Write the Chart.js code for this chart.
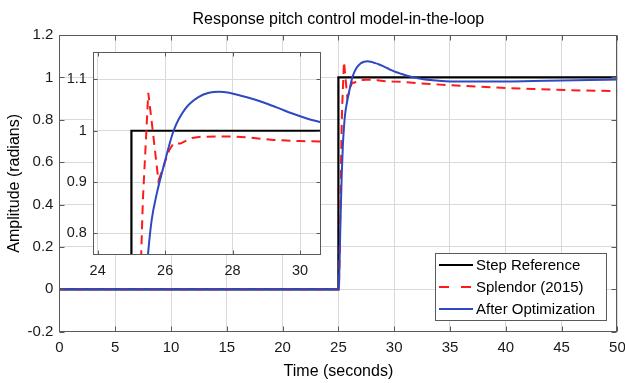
<!DOCTYPE html>
<html><head><meta charset="utf-8">
<script src="https://cdn.jsdelivr.net/npm/chart.js@4/dist/chart.umd.min.js"></script>
<style>
html,body{margin:0;padding:0;background:#fff;}
#wrap{position:relative;width:625px;height:383px;}
canvas{position:absolute;left:0;top:0;}
#inset{pointer-events:none;}
</style></head><body>
<div id="wrap"><canvas id="main" width="625" height="383"></canvas><canvas id="inset" width="625" height="383"></canvas></div>
<script>
const chartTitle = 'Response pitch control model-in-the-loop';
const xAxisTitle = 'Time (seconds)';
const yAxisTitle = 'Amplitude (radians)';
const seriesNames = ['Step Reference', 'Splendor (2015)', 'After Optimization'];

const stepTime  = [0, 25, 25, 50];
const stepValue = [0, 0, 1, 1];

const splendorTime  = [0, 25.05, 25.15, 25.22, 25.29, 25.34, 25.5, 25.65, 25.8, 25.9, 26.0, 26.12, 26.25, 26.45, 26.6, 26.8, 27.0, 27.5, 28.0, 28.5, 29.2, 30.0, 30.6, 32, 35, 37.5, 40, 42.5, 45.5, 50];
const splendorValue = [0, 0, 0.3, 0.55, 0.76, 0.865, 1.074, 0.99, 0.903, 0.92, 0.94, 0.962, 0.976, 0.975, 0.98, 0.986, 0.988, 0.989, 0.989, 0.987, 0.982, 0.98, 0.979, 0.973, 0.963, 0.956, 0.95, 0.945, 0.94, 0.935];

const optTime  = [0, 25.0, 25.05, 25.1, 25.2, 25.3, 25.4, 25.5, 25.6, 25.75, 26.0, 26.25, 26.6, 27.0, 27.3, 27.6, 27.9, 28.2, 28.6, 29.0, 29.4, 29.75, 30.2, 30.6, 31.5, 32.5, 33.5, 35, 36.5, 38.5, 40.5, 42.5, 45, 47.5, 50];
const optValue = [0, 0, 0.02, 0.12, 0.35, 0.54, 0.68, 0.765, 0.826, 0.877, 0.942, 1.0, 1.043, 1.066, 1.074, 1.076, 1.074, 1.069, 1.062, 1.053, 1.043, 1.034, 1.024, 1.017, 1.003, 0.992, 0.986, 0.981, 0.98, 0.98, 0.981, 0.983, 0.985, 0.988, 0.99];

const mainXTicks  = [0, 5, 10, 15, 20, 25, 30, 35, 40, 45, 50];
const mainYTicks  = [-0.2, 0, 0.2, 0.4, 0.6, 0.8, 1, 1.2];
const insetXTicks = [24, 26, 28, 30];
const insetYTicks = [0.8, 0.9, 1, 1.1];

const FONT = "'Liberation Sans', Arial, Helvetica, sans-serif";
const TEXT = '#1a1a1a';
const GRID = '#dadada';
const FRAME = '#5a5a5a';
const COLORS = ['#000000', '#ff1a1a', '#2e49c2'];

Chart.defaults.font.family = FONT;
Chart.defaults.color = TEXT;

const pts = (xs, ys) => xs.map((x, i) => ({x: x, y: ys[i]}));
const fmt = v => String(parseFloat(Number(v).toFixed(2)));

function makeDatasets() {
  return [
    {label: seriesNames[0], data: pts(stepTime, stepValue), borderColor: COLORS[0], borderWidth: 2.2, tension: 0, order: 2},
    {label: seriesNames[1], data: pts(splendorTime, splendorValue), borderColor: COLORS[1], borderWidth: 2, borderDash: [9, 6], tension: 0, order: 1},
    {label: seriesNames[2], data: pts(optTime, optValue), borderColor: COLORS[2], borderWidth: 2, cubicInterpolationMode: 'monotone', order: 0}
  ];
}

const framePlugin = {
  id: 'frame',
  beforeDraw(chart, args, o) {
    if (!o.fill) return;
    const a = chart.chartArea, ctx = chart.ctx;
    ctx.save(); ctx.fillStyle = o.fill;
    ctx.fillRect(a.left, a.top, a.right - a.left, a.bottom - a.top);
    ctx.restore();
  },
  afterDatasetsDraw(chart, args, o) {
    const {ctx, chartArea: a, scales: {x, y}} = chart;
    const L = o.tick || 5;
    ctx.save();
    ctx.strokeStyle = o.color; ctx.lineWidth = 1;
    ctx.beginPath();
    const l = Math.round(a.left) + 0.5, r = Math.round(a.right) - 0.5;
    const t = Math.round(a.top) + 0.5, b = Math.round(a.bottom) - 0.5;
    x.ticks.forEach(tk => {
      const px = Math.round(x.getPixelForValue(tk.value)) + 0.5;
      ctx.moveTo(px, t); ctx.lineTo(px, t + L);
      ctx.moveTo(px, b); ctx.lineTo(px, b - L);
    });
    y.ticks.forEach(tk => {
      const py = Math.round(y.getPixelForValue(tk.value)) + 0.5;
      ctx.moveTo(l, py); ctx.lineTo(l + L, py);
      ctx.moveTo(r, py); ctx.lineTo(r - L, py);
    });
    ctx.stroke();
    ctx.strokeRect(l, t, r - l, b - t);
    ctx.restore();
  }
};

const boxLegend = {
  id: 'boxLegend',
  afterDraw(chart, args, o) {
    const ctx = chart.ctx;
    ctx.save();
    ctx.fillStyle = '#fff';
    ctx.fillRect(o.x, o.y, o.w, o.h);
    ctx.strokeStyle = FRAME; ctx.lineWidth = 1;
    ctx.strokeRect(o.x + 0.5, o.y + 0.5, o.w, o.h);
    ctx.font = '15px ' + FONT;
    ctx.textBaseline = 'middle';
    ctx.textAlign = 'left';
    chart.data.datasets.forEach((ds, i) => {
      const yy = o.y + o.first + i * o.step;
      ctx.strokeStyle = ds.borderColor;
      ctx.lineWidth = ds.borderWidth;
      ctx.setLineDash(ds.borderDash ? [10, 12] : []);
      ctx.beginPath(); ctx.moveTo(o.x + 4, yy); ctx.lineTo(o.x + 38, yy); ctx.stroke();
      ctx.setLineDash([]);
      ctx.fillStyle = '#000';
      ctx.fillText(ds.label, o.x + 41, yy + 0.5);
    });
    ctx.restore();
  }
};

new Chart(document.getElementById('main'), {
  type: 'line',
  data: {datasets: makeDatasets()},
  plugins: [framePlugin, boxLegend],
  options: {
    responsive: false, animation: false, devicePixelRatio: 1,
    layout: {padding: 0},
    elements: {point: {radius: 0}},
    plugins: {
      legend: {display: false},
      tooltip: {enabled: false},
      title: {display: true, text: chartTitle, fullSize: false, color: '#000',
              font: {size: 16, weight: 'normal'}, padding: {top: 10, bottom: 5.8}},
      frame: {color: FRAME, tick: 5},
      boxLegend: {x: 435, y: 253, w: 171, h: 67, first: 12, step: 22}
    },
    scales: {
      x: {
        type: 'linear', min: 0, max: 50,
        afterBuildTicks: s => { s.ticks = mainXTicks.map(v => ({value: v})); },
        ticks: {padding: 7, color: TEXT, font: {size: 15}, callback: v => fmt(v), maxRotation: 0, autoSkip: false},
        grid: {color: GRID, drawTicks: false},
        border: {display: false},
        title: {display: true, text: xAxisTitle, color: '#000', font: {size: 16}, padding: {top: 0, bottom: 1.5}},
        afterFit: s => { s.height = 51.3; s.paddingLeft = 0; s.paddingRight = 7.6; }
      },
      y: {
        type: 'linear', min: -0.2, max: 1.2,
        afterBuildTicks: s => { s.ticks = mainYTicks.map(v => ({value: v})); },
        ticks: {padding: 6, color: TEXT, font: {size: 15}, callback: v => fmt(v), autoSkip: false},
        grid: {color: GRID, drawTicks: false},
        border: {display: false},
        title: {display: true, text: yAxisTitle, color: '#000', font: {size: 16}, padding: {top: 5.4, bottom: 0}},
        afterFit: s => { s.width = 59.4; s.paddingTop = 0; s.paddingBottom = 0; }
      }
    }
  }
});

new Chart(document.getElementById('inset'), {
  type: 'line',
  data: {datasets: makeDatasets()},
  plugins: [framePlugin],
  options: {
    responsive: false, animation: false, devicePixelRatio: 1,
    events: [],
    layout: {padding: {left: 0, top: 51.7, right: 304, bottom: 98}},
    elements: {point: {radius: 0}},
    plugins: {
      legend: {display: false},
      tooltip: {enabled: false},
      title: {display: false},
      frame: {color: FRAME, tick: 4, fill: '#ffffff'}
    },
    scales: {
      x: {
        type: 'linear', min: 23.87, max: 30.62,
        afterBuildTicks: s => { s.ticks = insetXTicks.map(v => ({value: v})); },
        ticks: {padding: 7.5, color: TEXT, font: {size: 14.5}, callback: v => fmt(v), maxRotation: 0, autoSkip: false},
        grid: {color: GRID, drawTicks: false},
        border: {display: false},
        afterFit: s => { s.height = 30; s.paddingLeft = 0; s.paddingRight = 0; }
      },
      y: {
        type: 'linear', min: 0.758, max: 1.154,
        afterBuildTicks: s => { s.ticks = insetYTicks.map(v => ({value: v})); },
        ticks: {padding: 6.5, color: TEXT, font: {size: 14.5}, callback: v => fmt(v), autoSkip: false},
        grid: {color: GRID, drawTicks: false},
        border: {display: false},
        afterFit: s => { s.width = 93.3; s.paddingTop = 0; s.paddingBottom = 0; }
      }
    }
  }
});
</script>
</body></html>
